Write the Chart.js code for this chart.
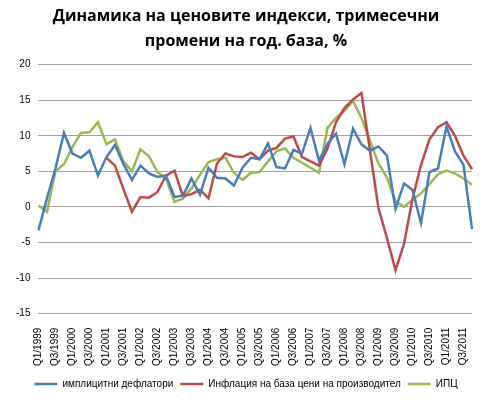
<!DOCTYPE html>
<html>
<head>
<meta charset="utf-8">
<script src="https://cdn.jsdelivr.net/npm/chart.js@4/dist/chart.umd.min.js"></script>
<style>
  html, body { margin: 0; padding: 0; background: #fff; }
  #wrap { width: 490px; height: 399px; }
</style>
</head>
<body>
<div id="wrap"><canvas id="c" width="490" height="399"></canvas></div>
<script>
// --- Данни ---
const quarters = [
  'Q1/1999','Q2/1999','Q3/1999','Q4/1999','Q1/2000','Q2/2000','Q3/2000','Q4/2000',
  'Q1/2001','Q2/2001','Q3/2001','Q4/2001','Q1/2002','Q2/2002','Q3/2002','Q4/2002',
  'Q1/2003','Q2/2003','Q3/2003','Q4/2003','Q1/2004','Q2/2004','Q3/2004','Q4/2004',
  'Q1/2005','Q2/2005','Q3/2005','Q4/2005','Q1/2006','Q2/2006','Q3/2006','Q4/2006',
  'Q1/2007','Q2/2007','Q3/2007','Q4/2007','Q1/2008','Q2/2008','Q3/2008','Q4/2008',
  'Q1/2009','Q2/2009','Q3/2009','Q4/2009','Q1/2010','Q2/2010','Q3/2010','Q4/2010',
  'Q1/2011','Q2/2011','Q3/2011','Q4/2011'
];

const deflators = [
  -3.3, 1.2, 5.4, 10.4, 7.5, 6.9, 7.9, 4.4, 7.0, 8.7, 6.0, 3.8, 5.8, 4.7, 4.2, 4.4,
  1.4, 1.6, 4.0, 1.7, 5.5, 4.1, 4.0, 3.0, 5.5, 6.9, 6.7, 8.9, 5.6, 5.4, 8.0, 7.5,
  11.1, 6.5, 8.9, 10.3, 6.0, 11.0, 8.8, 7.9, 8.5, 7.2, -0.3, 3.3, 2.4, -2.3, 4.9, 5.4,
  11.3, 7.8, 5.9, -3.1
];

const ppi = [
  null, null, null, null, null, null, null, null, 6.9, 5.8, 2.5, -0.7, 1.4, 1.3, 2.1, 4.4,
  5.1, 1.5, 1.8, 2.4, 1.2, 6.1, 7.5, 7.1, 7.0, 7.6, 6.7, 7.9, 8.3, 9.6, 9.9, 7.0,
  6.4, 5.8, 8.2, 11.9, 13.9, 15.1, 16.0, 7.9, -0.2, -4.4, -8.9, -5.2, 1.1, 5.9, 9.5, 11.2,
  11.9, 10.0, 7.2, 5.3
];

const cpi = [
  0.2, -0.7, 5.0, 6.0, 8.4, 10.4, 10.5, 11.9, 8.8, 9.5, 6.4, 5.0, 8.1, 7.1, 4.9, 4.0,
  0.7, 1.2, 2.6, 4.5, 6.3, 6.7, 6.9, 4.8, 3.8, 4.8, 4.9, 6.4, 7.8, 8.2, 6.9, 6.2,
  5.5, 4.8, 11.1, 12.5, 13.5, 14.9, 12.5, 9.3, 6.1, 4.1, 0.8, 0.0, 1.0, 1.9, 3.2, 4.6,
  5.1, 4.7, 4.0, 3.1
];

const yTicks = [-15, -10, -5, 0, 5, 10, 15, 20];

const seriesNames = ['имплицитни дефлатори', 'Инфлация на база цени на производител', 'ИПЦ'];
const seriesColors = ['#4A7EBB', '#BE4B48', '#98B954'];

const titleLines = ['Динамика на ценовите индекси, тримесечни', 'промени на год. база, %'];

// --- Графика ---
const font = "'Liberation Sans', Arial, sans-serif";

function ds(label, data, color) {
  return {
    label: label,
    data: data,
    borderColor: color,
    backgroundColor: color,
    borderWidth: 2.5,
    pointRadius: 0,
    pointStyle: 'line',
    tension: 0,
    spanGaps: false
  };
}

new Chart(document.getElementById('c'), {
  type: 'line',
  data: {
    labels: quarters,
    datasets: [
      ds(seriesNames[0], deflators, seriesColors[0]),
      ds(seriesNames[1], ppi, seriesColors[1]),
      ds(seriesNames[2], cpi, seriesColors[2])
    ]
  },
  options: {
    responsive: false,
    animation: false,
    layout: { padding: { left: 8, right: 6, top: 4, bottom: 0 } },
    plugins: {
      title: {
        display: true,
        text: titleLines,
        color: '#000',
        font: { family: "'Open Sans', sans-serif", size: 16, weight: 'bold', lineHeight: 1.55 },
        padding: { top: 0, bottom: 11 }
      },
      legend: {
        position: 'bottom',
        labels: {
          usePointStyle: true,
          pointStyleWidth: 23,
          color: '#000',
          font: { family: font, size: 10 },
          padding: 7
        }
      },
      tooltip: { enabled: false }
    },
    scales: {
      x: {
        grid: { display: false },
        border: { display: false },
        ticks: {
          autoSkip: false,
          minRotation: 90,
          maxRotation: 90,
          color: '#000',
          font: { family: font, size: 10 },
          padding: 6,
          callback: function(v, i) { return i % 2 === 0 ? quarters[i] : ''; }
        }
      },
      y: {
        min: yTicks[0],
        max: yTicks[yTicks.length - 1],
        afterBuildTicks: function(axis) { axis.ticks = yTicks.map(v => ({ value: v })); },
        grid: { color: '#A0A0A0', lineWidth: 1, drawTicks: false },
        border: { display: false },
        ticks: {
          color: '#000',
          font: { family: font, size: 10 },
          padding: 8
        }
      }
    }
  }
});
</script>
</body>
</html>
